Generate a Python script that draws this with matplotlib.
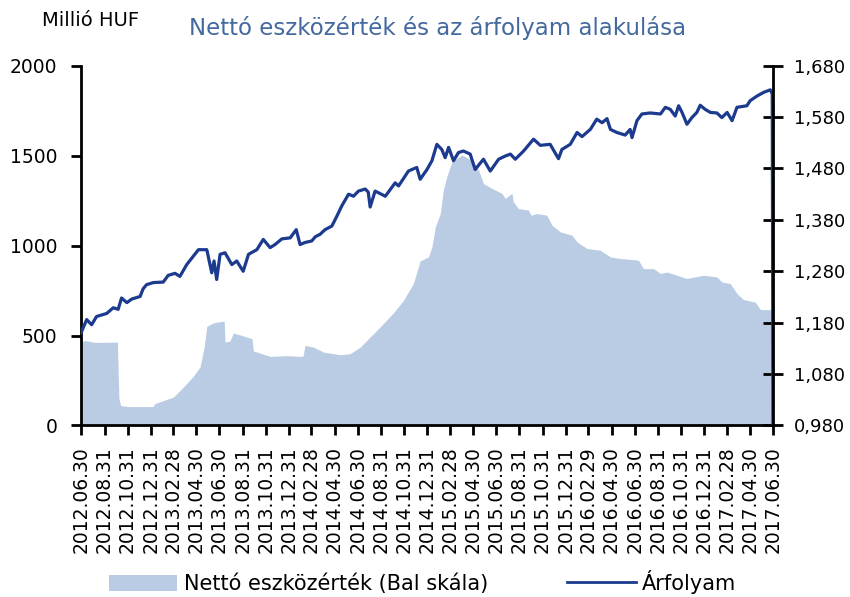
import numpy as np
import pandas as pd
import matplotlib
matplotlib.use('Agg')
import matplotlib.pyplot as plt
from matplotlib.patches import Patch
from matplotlib.lines import Line2D

# Nettó eszközérték (millió HUF), bal skála
nav_dates = ['2012-06-30', '2012-07-10', '2012-08-06', '2012-10-04', '2012-10-08', '2012-10-13',
             '2012-11-06', '2012-12-29', '2013-01-06', '2013-01-11', '2013-03-01', '2013-03-27',
             '2013-04-22', '2013-05-10', '2013-05-21', '2013-05-28', '2013-06-14', '2013-07-06',
             '2013-07-13', '2013-07-15', '2013-07-28', '2013-08-06', '2013-08-28', '2013-09-15',
             '2013-09-24', '2013-09-28', '2013-10-16', '2013-11-11', '2013-12-25', '2014-01-29',
             '2014-02-06', '2014-02-11', '2014-03-05', '2014-04-01', '2014-05-15', '2014-06-10',
             '2014-07-07', '2014-08-02', '2014-08-28', '2014-10-02', '2014-10-29', '2014-11-24',
             '2014-12-07', '2014-12-12', '2015-01-03', '2015-01-12', '2015-01-21', '2015-02-03',
             '2015-02-11', '2015-02-20', '2015-03-06', '2015-04-01', '2015-04-27', '2015-05-15',
             '2015-05-28', '2015-06-19', '2015-07-16', '2015-07-24', '2015-08-11', '2015-08-15',
             '2015-08-28', '2015-09-24', '2015-09-30', '2015-10-16', '2015-11-11', '2015-11-25',
             '2015-12-17', '2016-01-16', '2016-01-30', '2016-02-25', '2016-03-31', '2016-04-27',
             '2016-05-23', '2016-07-10', '2016-07-23', '2016-08-19', '2016-09-06', '2016-09-23',
             '2016-11-15', '2016-12-29', '2017-02-02', '2017-02-15', '2017-03-09', '2017-03-27',
             '2017-04-13', '2017-05-14', '2017-05-28', '2017-06-30']
nav_values = [465, 472, 462, 463, 150, 110,
              105, 105, 105, 122, 158, 213,
              273, 325, 436, 551, 570, 579,
              579, 464, 469, 514, 501, 488,
              483, 414, 402, 384, 388, 384,
              386, 445, 436, 408, 393, 399,
              436, 492, 547, 625, 696, 789,
              880, 915, 937, 993, 1104, 1178,
              1308, 1382, 1466, 1503, 1475, 1420,
              1345, 1318, 1290, 1262, 1290, 1243,
              1206, 1197, 1169, 1178, 1169, 1113,
              1076, 1058, 1020, 984, 974, 937,
              928, 919, 872, 872, 845, 853,
              817, 835, 826, 798, 789, 733,
              700, 686, 644, 644]

# Árfolyam, jobb skála
px_dates = ['2012-06-30', '2012-07-15', '2012-07-28', '2012-08-10', '2012-09-06', '2012-09-23',
            '2012-10-06', '2012-10-15', '2012-10-29', '2012-11-11', '2012-12-03', '2012-12-11',
            '2012-12-20', '2013-01-07', '2013-02-02', '2013-02-15', '2013-03-05', '2013-03-18',
            '2013-04-05', '2013-04-22', '2013-05-06', '2013-05-28', '2013-06-10', '2013-06-16',
            '2013-06-23', '2013-07-02', '2013-07-15', '2013-08-02', '2013-08-15', '2013-09-01',
            '2013-09-15', '2013-10-07', '2013-10-24', '2013-11-11', '2013-11-24', '2013-12-12',
            '2014-01-03', '2014-01-19', '2014-01-29', '2014-02-11', '2014-03-01', '2014-03-10',
            '2014-03-23', '2014-04-05', '2014-04-23', '2014-05-06', '2014-05-19', '2014-06-06',
            '2014-06-19', '2014-07-02', '2014-07-20', '2014-07-28', '2014-08-02', '2014-08-15',
            '2014-09-11', '2014-10-07', '2014-10-16', '2014-11-11', '2014-12-03', '2014-12-12',
            '2014-12-30', '2015-01-12', '2015-01-25', '2015-02-07', '2015-02-16', '2015-02-25',
            '2015-03-10', '2015-03-23', '2015-04-05', '2015-04-23', '2015-05-06', '2015-05-28',
            '2015-06-15', '2015-07-07', '2015-07-24', '2015-08-07', '2015-08-20', '2015-09-11',
            '2015-10-07', '2015-10-25', '2015-11-20', '2015-12-12', '2015-12-21', '2016-01-12',
            '2016-01-30', '2016-02-12', '2016-03-05', '2016-03-22', '2016-04-05', '2016-04-18',
            '2016-04-27', '2016-05-14', '2016-06-05', '2016-06-18', '2016-06-23', '2016-07-06',
            '2016-07-19', '2016-08-10', '2016-09-06', '2016-09-19', '2016-10-02', '2016-10-15',
            '2016-10-24', '2016-11-02', '2016-11-15', '2016-11-28', '2016-12-11', '2016-12-20',
            '2017-01-02', '2017-01-16', '2017-02-02', '2017-02-15', '2017-03-01', '2017-03-14',
            '2017-03-27', '2017-04-22', '2017-05-01', '2017-05-19', '2017-06-05', '2017-06-23',
            '2017-06-28', '2017-06-30']
px_values = [1.160, 1.186, 1.176, 1.192, 1.198, 1.209,
             1.206, 1.228, 1.219, 1.226, 1.231, 1.246,
             1.254, 1.258, 1.259, 1.272, 1.276, 1.270,
             1.293, 1.309, 1.322, 1.322, 1.277, 1.300,
             1.264, 1.313, 1.316, 1.293, 1.300, 1.280,
             1.313, 1.322, 1.342, 1.326, 1.332, 1.343,
             1.345, 1.361, 1.332, 1.336, 1.339, 1.347,
             1.352, 1.361, 1.368, 1.387, 1.407, 1.430,
             1.426, 1.436, 1.440, 1.434, 1.405, 1.436,
             1.426, 1.452, 1.446, 1.475, 1.482, 1.459,
             1.478, 1.495, 1.527, 1.517, 1.501, 1.521,
             1.495, 1.511, 1.514, 1.508, 1.478, 1.498,
             1.475, 1.498, 1.504, 1.508, 1.498, 1.514,
             1.537, 1.525, 1.527, 1.499, 1.517, 1.527,
             1.550, 1.542, 1.556, 1.576, 1.569, 1.577,
             1.556, 1.550, 1.545, 1.556, 1.540, 1.573,
             1.586, 1.588, 1.586, 1.599, 1.595, 1.582,
             1.602, 1.589, 1.566, 1.579, 1.589, 1.603,
             1.595, 1.589, 1.588, 1.579, 1.589, 1.573,
             1.599, 1.602, 1.612, 1.621, 1.628, 1.633,
             1.625, 0.980]

left_ticks = [0, 500, 1000, 1500, 2000]
right_ticks = [0.980, 1.080, 1.180, 1.280, 1.380, 1.480, 1.580, 1.680]
x_ticks = pd.date_range('2012-06-30', '2017-06-30', freq='2ME')

fill_color = '#b9cce4'
line_color = '#1c3a8e'

fig = plt.figure(figsize=(8.5, 5.97), dpi=100)
ax = fig.add_axes([0.0953, 0.2873, 0.8141, 0.6027])
ax2 = ax.twinx()

ax.fill_between(pd.to_datetime(nav_dates), nav_values, 0, color=fill_color, linewidth=0)
ax2.plot(pd.to_datetime(px_dates), px_values, color=line_color, linewidth=2.3)

ax.set_xlim(pd.Timestamp('2012-06-30'), pd.Timestamp('2017-06-30'))
ax.set_ylim(0, 2000)
ax2.set_ylim(0.98, 1.68)

ax.set_yticks(left_ticks)
ax.set_yticklabels([str(v) for v in left_ticks], fontsize=13.5)
ax2.set_yticks(right_ticks)
ax2.set_yticklabels([('%.3f' % v).replace('.', ',') for v in right_ticks], fontsize=13)
ax.set_xticks(x_ticks)
ax.set_xticklabels([d.strftime('%Y.%m.%d') for d in x_ticks], rotation=90, fontsize=13.5)

for s in ['top', 'right']:
    ax.spines[s].set_visible(False)
for s in ['top', 'left', 'bottom']:
    ax2.spines[s].set_visible(False)
for s in ['left', 'bottom']:
    ax.spines[s].set_linewidth(2)
ax2.spines['right'].set_linewidth(2)

ax.tick_params(axis='y', direction='out', length=7, width=2, pad=10)
ax.tick_params(axis='x', direction='out', length=7, width=2, pad=8)
ax2.tick_params(axis='y', direction='inout', length=14, width=2, pad=8)

fig.text(438 / 850, 1 - 28 / 597, 'Nettó eszközérték és az árfolyam alakulása',
         ha='center', va='center', fontsize=16.5, color='#44699f')
fig.text(91 / 850, 1 - 21 / 597, 'Millió HUF', ha='center', va='center', fontsize=14)

handles = [Patch(facecolor=fill_color, edgecolor='none'),
           Line2D([0], [0], color=line_color, linewidth=2)]
fig.legend(handles, ['Nettó eszközérték (Bal skála)', 'Árfolyam'],
           loc='center', bbox_to_anchor=(0.497, 0.025), ncol=2, frameon=False,
           fontsize=15, handlelength=3.3, handleheight=0.8, handletextpad=0.3,
           columnspacing=3.8)

plt.savefig('out.png', dpi=100)
